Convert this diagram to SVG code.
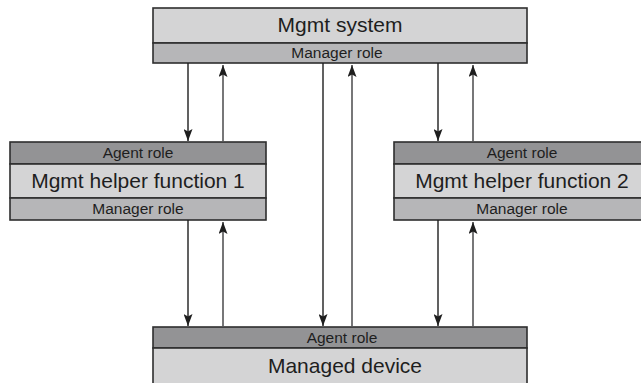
<svg xmlns="http://www.w3.org/2000/svg" width="641" height="383" viewBox="0 0 641 383">
<style>
.box{stroke:#2e2e2e;stroke-width:1.6}
.main{fill:#d4d4d5}
.mgr{fill:#b6b6b8}
.agt{fill:#939395}
.big{font-family:"Liberation Sans",Arial,sans-serif;font-size:21px;fill:#1e1e1e;text-anchor:middle}
.sm{font-family:"Liberation Sans",Arial,sans-serif;font-size:15.5px;fill:#1e1e1e;text-anchor:middle}
.dn{stroke:#1e1e1e;stroke-width:1.4;fill:none}
.up{stroke:#555557;stroke-width:1.6;fill:none}
</style>
<defs>
<marker id="ad" viewBox="0 0 12 9" refX="12" refY="4.5" markerWidth="12" markerHeight="9" markerUnits="userSpaceOnUse" orient="auto">
<path d="M0,0 L12,4.5 L0,9 L2.5,4.5 Z" fill="#1e1e1e"/>
</marker>
<marker id="au" viewBox="0 0 12 9" refX="12" refY="4.5" markerWidth="12" markerHeight="9" markerUnits="userSpaceOnUse" orient="auto">
<path d="M0,0 L12,4.5 L0,9 L2.5,4.5 Z" fill="#1e1e1e"/>
</marker>
</defs>
<rect width="641" height="383" fill="#ffffff"/>
<g id="mgmt-system">
<rect class="box main" x="153" y="8" width="374" height="35"/>
<rect class="box mgr" x="153" y="43" width="374" height="20"/>
<text class="big" x="340" y="32">Mgmt system</text>
<text class="sm" x="337" y="58">Manager role</text>
</g>
<g id="helper-1">
<rect class="box agt" x="10" y="142" width="256" height="22"/>
<rect class="box main" x="10" y="164" width="256" height="34"/>
<rect class="box mgr" x="10" y="198" width="256" height="22"/>
<text class="sm" x="138" y="158">Agent role</text>
<text class="big" x="138" y="188">Mgmt helper function 1</text>
<text class="sm" x="138" y="214">Manager role</text>
</g>
<g id="helper-2">
<rect class="box agt" x="394" y="142" width="256" height="22"/>
<rect class="box main" x="394" y="164" width="256" height="34"/>
<rect class="box mgr" x="394" y="198" width="256" height="22"/>
<text class="sm" x="522" y="158">Agent role</text>
<text class="big" x="522" y="188">Mgmt helper function 2</text>
<text class="sm" x="522" y="214">Manager role</text>
</g>
<g id="managed-device">
<rect class="box agt" x="153" y="327" width="374" height="21"/>
<rect class="box main" x="153" y="348" width="374" height="40"/>
<text class="sm" x="342" y="343">Agent role</text>
<text class="big" x="345" y="373">Managed device</text>
</g>
<g id="connectors">
<line class="dn" x1="188" y1="63" x2="188" y2="141" marker-end="url(#ad)"/>
<line class="up" x1="223" y1="142" x2="223" y2="65" marker-end="url(#au)"/>
<line class="dn" x1="438" y1="63" x2="438" y2="141" marker-end="url(#ad)"/>
<line class="up" x1="473" y1="142" x2="473" y2="65" marker-end="url(#au)"/>
<line class="dn" x1="188" y1="220" x2="188" y2="326" marker-end="url(#ad)"/>
<line class="up" x1="223" y1="327" x2="223" y2="222" marker-end="url(#au)"/>
<line class="dn" x1="438" y1="220" x2="438" y2="326" marker-end="url(#ad)"/>
<line class="up" x1="473" y1="327" x2="473" y2="222" marker-end="url(#au)"/>
<line class="dn" x1="323" y1="63" x2="323" y2="326" marker-end="url(#ad)"/>
<line class="up" x1="352" y1="327" x2="352" y2="65" marker-end="url(#au)"/>
</g>
</svg>
